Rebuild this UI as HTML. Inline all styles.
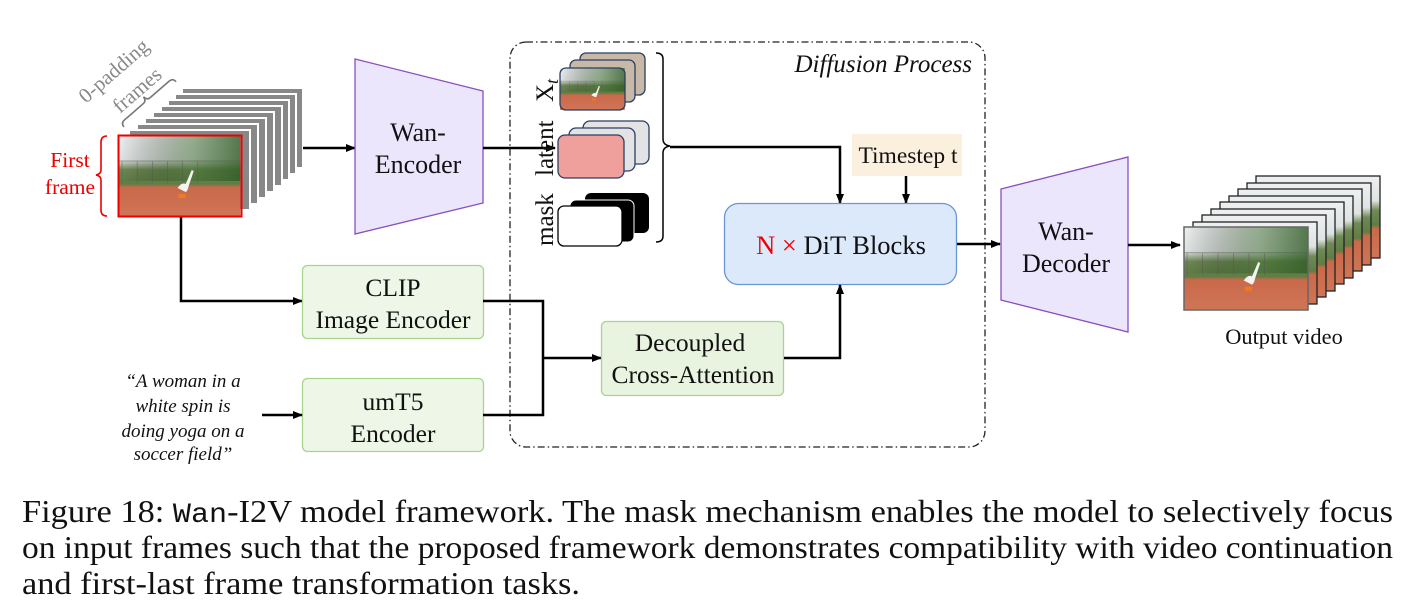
<!DOCTYPE html>
<html><head><meta charset="utf-8"><style>
body{margin:0;background:#fff;width:1401px;height:614px;overflow:hidden}
svg{display:block}
text{font-family:"Liberation Serif",serif;fill:#111}
</style></head><body>
<svg width="1401" height="614" viewBox="0 0 1401 614" xmlns="http://www.w3.org/2000/svg">
<defs>
<marker id="ah" markerWidth="10" markerHeight="10" refX="9" refY="5" orient="auto" markerUnits="userSpaceOnUse">
<path d="M0,1 L10,5 L0,9 Z" fill="#000"/></marker>
<linearGradient id="photo" x1="0" y1="0" x2="0" y2="1">
<stop offset="0" stop-color="#eef0f1"/><stop offset="0.3" stop-color="#dfe3e2"/>
<stop offset="0.42" stop-color="#6f8a55"/><stop offset="0.6" stop-color="#5f7d45"/>
<stop offset="0.64" stop-color="#c9694a"/><stop offset="1" stop-color="#cf7556"/></linearGradient>
<linearGradient id="trees" x1="0" y1="0" x2="1" y2="0">
<stop offset="0" stop-color="#000" stop-opacity="0"/><stop offset="0.6" stop-color="#3d6a2e" stop-opacity="0.5"/><stop offset="1" stop-color="#2f5a25" stop-opacity="0.8"/></linearGradient>
<g id="ph">
<rect x="0" y="0" width="120" height="80" fill="url(#photo)"/>
<rect x="0" y="0" width="120" height="45" fill="url(#trees)"/>
<g stroke="#555" stroke-width="0.7" opacity="0.6"><line x1="0" y1="25" x2="120" y2="25"/><line x1="3" y1="25" x2="3" y2="47"/><line x1="18" y1="25" x2="18" y2="47"/><line x1="33" y1="25" x2="33" y2="47"/><line x1="48" y1="25" x2="48" y2="47"/><line x1="63" y1="25" x2="63" y2="47"/><line x1="78" y1="25" x2="78" y2="47"/></g>
<path d="M58,52 q4,-6 8,-4 l6,-14 l2,1 l-5,15 q-1,5 -3,6 z" fill="#f4f4f2"/>
<rect x="59" y="58" width="7" height="4" fill="#f07a20"/>
</g>
</defs>

<!-- 0-padding frames -->
<g>
<rect x="182" y="88" width="121" height="80" fill="#888" stroke="#fff" stroke-width="2"/>
<rect x="175" y="94" width="121" height="80" fill="#888" stroke="#fff" stroke-width="2"/>
<rect x="168" y="100" width="121" height="80" fill="#888" stroke="#fff" stroke-width="2"/>
<rect x="161" y="106" width="121" height="80" fill="#888" stroke="#fff" stroke-width="2"/>
<rect x="153" y="112" width="121" height="80" fill="#888" stroke="#fff" stroke-width="2"/>
<rect x="145" y="118" width="121" height="80" fill="#888" stroke="#fff" stroke-width="2"/>
<rect x="137" y="124" width="121" height="80" fill="#888" stroke="#fff" stroke-width="2"/>
<rect x="129" y="130" width="121" height="80" fill="#888" stroke="#fff" stroke-width="2"/>
</g>
<g transform="translate(119,136) scale(1.01,1.0)"><use href="#ph"/></g>
<rect x="118.5" y="135.5" width="123" height="81" fill="none" stroke="#e00" stroke-width="2"/>
<path d="M107,136 q-6,0 -6,6 v28 q0,4 -5,5 q5,1 5,5 v30 q0,6 6,6" fill="none" stroke="#e00" stroke-width="1.6"/>
<text x="70" y="167" font-size="21.5" style="fill:#e00" text-anchor="middle">First</text>
<text x="70" y="194" font-size="21.5" style="fill:#e00" text-anchor="middle">frame</text>
<g transform="translate(124,127) rotate(-41)">
<path d="M0,0 q0,-5 5,-5 h25 q4,0 4.5,-5 q0.5,5 4.5,5 h25 q5,0 5,5" fill="none" stroke="#777" stroke-width="1.6"/>
</g>
<g transform="translate(86,104) rotate(-41)"><text x="0" y="0" font-size="21" style="fill:#888">0-padding</text></g>
<g transform="translate(120,114) rotate(-41)"><text x="0" y="0" font-size="21" style="fill:#888">frames</text></g>

<!-- arrows first -> encoder -->
<line x1="303" y1="148" x2="355" y2="148" stroke="#000" stroke-width="2.5" marker-end="url(#ah)"/>
<polyline points="181,217 181,301 302,301" fill="none" stroke="#000" stroke-width="2.5" marker-end="url(#ah)"/>

<!-- Encoder -->
<polygon points="355,59 483,91 483,203 355,234" fill="#ece6fd" stroke="#8a4fc0" stroke-width="1.3"/>
<text x="418" y="141" font-size="26" text-anchor="middle">Wan-</text>
<text x="418" y="173" font-size="26" text-anchor="middle">Encoder</text>
<line x1="483" y1="148" x2="555" y2="148" stroke="#000" stroke-width="2.5" marker-end="url(#ah)"/>

<!-- dashed box -->
<rect x="510" y="42" width="475" height="405" rx="16" fill="none" stroke="#222" stroke-width="1.3" stroke-dasharray="7,3,1.5,3"/>
<text x="972" y="72" font-size="25" font-style="italic" text-anchor="end">Diffusion Process</text>

<!-- Xt -->
<g stroke="#2a3f60" stroke-width="1.3">
<rect x="580" y="53" width="65" height="42" rx="6" fill="#c7b8a8"/>
<rect x="570" y="60" width="65" height="42" rx="6" fill="#c7b8a8"/>
</g>
<g transform="translate(560,68) scale(0.54,0.525)"><use href="#ph"/></g>
<rect x="560" y="68" width="65" height="42" rx="6" fill="none" stroke="#2a3f60" stroke-width="1.3"/>
<g transform="translate(553,102) rotate(-90)"><text font-size="25">X<tspan font-style="italic" font-size="18" dy="5">t</tspan></text></g>
<!-- latent -->
<rect x="583" y="121" width="66" height="43" rx="7" fill="#e3e3e6" stroke="#2a3f60" stroke-width="1.3"/>
<rect x="569" y="128" width="66" height="43" rx="7" fill="#e3e3e6" stroke="#2a3f60" stroke-width="1.3"/>
<rect x="558" y="135" width="66" height="43" rx="7" fill="#efa09c" stroke="#2a3f60" stroke-width="1.3"/>
<g transform="translate(553,176) rotate(-90)"><text font-size="25">latent</text></g>
<!-- mask -->
<rect x="585" y="193" width="64" height="40" rx="6" fill="#000"/>
<rect x="570" y="200" width="64" height="42" rx="6" fill="#000" stroke="#fff" stroke-width="1"/>
<rect x="558" y="206" width="64" height="40" rx="6" fill="#fff" stroke="#000" stroke-width="1.3"/>
<g transform="translate(553,246) rotate(-90)"><text font-size="25">mask</text></g>
<!-- brace -->
<path d="M656,53 q7,0 7,6 v80 q0,6 7,7 q-7,1 -7,7 v83 q0,6 -7,6" fill="none" stroke="#000" stroke-width="1.5"/>
<polyline points="670,147 840,147 840,203" fill="none" stroke="#000" stroke-width="2.5" marker-end="url(#ah)"/>

<!-- Timestep -->
<rect x="852" y="134" width="110" height="42" fill="#fbf0de"/>
<text x="908" y="163" font-size="23.5" text-anchor="middle">Timestep t</text>
<line x1="906" y1="176" x2="906" y2="203" stroke="#000" stroke-width="2.5" marker-end="url(#ah)"/>

<!-- DiT -->
<rect x="724.5" y="203.5" width="232" height="81" rx="14" fill="#dce9fb" stroke="#6b95d3" stroke-width="1.3"/>
<text x="841" y="254" font-size="26.5" text-anchor="middle"><tspan style="fill:#e00">N × </tspan>DiT Blocks</text>
<line x1="957" y1="244" x2="1000" y2="244" stroke="#000" stroke-width="2.5" marker-end="url(#ah)"/>

<!-- Decoder -->
<polygon points="1001,189 1128,157 1128,332 1001,300" fill="#ece6fd" stroke="#8a4fc0" stroke-width="1.3"/>
<text x="1066" y="240" font-size="26" text-anchor="middle">Wan-</text>
<text x="1066" y="272" font-size="26" text-anchor="middle">Decoder</text>
<line x1="1128" y1="245" x2="1180" y2="245" stroke="#000" stroke-width="2.5" marker-end="url(#ah)"/>

<!-- Output frames -->
<g stroke="#222" stroke-width="1.3">
<rect x="1256" y="176" width="124" height="82" fill="url(#photo)"/>
<rect x="1247" y="183" width="124" height="82" fill="url(#photo)"/>
<rect x="1238" y="189" width="124" height="82" fill="url(#photo)"/>
<rect x="1229" y="196" width="124" height="82" fill="url(#photo)"/>
<rect x="1220" y="202" width="124" height="82" fill="url(#photo)"/>
<rect x="1211" y="209" width="124" height="82" fill="url(#photo)"/>
<rect x="1202" y="215" width="124" height="82" fill="url(#photo)"/>
<rect x="1193" y="222" width="124" height="82" fill="url(#photo)"/>
</g>
<g transform="translate(1184,227) scale(1.03,1.03)"><use href="#ph"/></g>
<rect x="1184" y="227" width="124" height="83" fill="none" stroke="#666" stroke-width="1.5"/>
<text x="1284" y="344" font-size="22.4" text-anchor="middle">Output video</text>

<!-- CLIP / umT5 -->
<rect x="302.5" y="265.5" width="181" height="73" rx="5" fill="#eef6e8" stroke="#a8d48e" stroke-width="1.3"/>
<text x="393" y="296" font-size="25.5" text-anchor="middle">CLIP</text>
<text x="393" y="328" font-size="25.5" text-anchor="middle">Image Encoder</text>
<rect x="302.5" y="378.5" width="181" height="73" rx="5" fill="#eef6e8" stroke="#a8d48e" stroke-width="1.3"/>
<text x="393" y="410" font-size="25.5" text-anchor="middle">umT5</text>
<text x="393" y="442" font-size="25.5" text-anchor="middle">Encoder</text>
<polyline points="483,301 543,301 543,415 483,415" fill="none" stroke="#000" stroke-width="2.5"/>
<line x1="543" y1="358" x2="601" y2="358" stroke="#000" stroke-width="2.5" marker-end="url(#ah)"/>
<line x1="262" y1="415" x2="302" y2="415" stroke="#000" stroke-width="2.5" marker-end="url(#ah)"/>
<g font-size="19" font-style="italic" text-anchor="middle">
<text x="183" y="387">“A woman in a</text>
<text x="183" y="412">white spin is</text>
<text x="183" y="437">doing yoga on a</text>
<text x="183" y="460">soccer field”</text>
</g>

<!-- Decoupled -->
<rect x="601.5" y="321.5" width="182" height="74" rx="5" fill="#e8f3e0" stroke="#a8d48e" stroke-width="1.3"/>
<text x="690" y="351" font-size="25.5" text-anchor="middle">Decoupled</text>
<text x="693" y="383" font-size="25.5" text-anchor="middle">Cross-Attention</text>
<polyline points="784,358 840,358 840,285" fill="none" stroke="#000" stroke-width="2.5" marker-end="url(#ah)"/>

<!-- caption -->
<g font-size="32">
<text x="22" y="522" textLength="1371" lengthAdjust="spacingAndGlyphs">Figure 18: <tspan font-family="Liberation Mono, monospace" font-size="28">Wan</tspan>-I2V model framework. The mask mechanism enables the model to selectively focus</text>
<text x="22" y="558" textLength="1371" lengthAdjust="spacingAndGlyphs">on input frames such that the proposed framework demonstrates compatibility with video continuation</text>
<text x="22" y="594" textLength="558" lengthAdjust="spacingAndGlyphs">and first-last frame transformation tasks.</text>
</g>
</svg>
</body></html>
